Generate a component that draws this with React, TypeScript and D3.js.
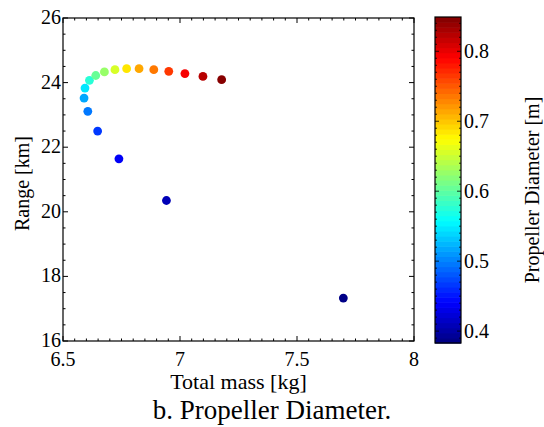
import React from "react";
import * as d3 from "d3";

const mass = [7.698, 6.942, 6.739, 6.648, 6.606, 6.590, 6.594, 6.613, 6.640, 6.677, 6.722, 6.772, 6.825, 6.888, 6.952, 7.021, 7.098, 7.178];
const rangeKm = [17.33, 20.35, 21.64, 22.50, 23.11, 23.52, 23.83, 24.07, 24.22, 24.33, 24.40, 24.43, 24.43, 24.40, 24.35, 24.28, 24.19, 24.09];
const diameter = [0.383, 0.41, 0.438, 0.465, 0.493, 0.52, 0.547, 0.575, 0.602, 0.63, 0.657, 0.684, 0.712, 0.739, 0.767, 0.794, 0.821, 0.849];
const xTicks = [6.5, 7, 7.5, 8];
const yTicks = [16, 18, 20, 22, 24, 26];
const cTicks = [0.4, 0.5, 0.6, 0.7, 0.8];
const cDomain = [0.383, 0.849];

const FONT = "Liberation Serif, DejaVu Serif, serif";

function jet(t: number): string {
  const c = (v: number) => Math.max(0, Math.min(1, v));
  const r = c(1.5 - Math.abs(4 * t - 3));
  const g = c(1.5 - Math.abs(4 * t - 2));
  const b = c(1.5 - Math.abs(4 * t - 1));
  return d3.rgb(r * 255, g * 255, b * 255).formatHex();
}
const NLEV = 64;
function jetQ(t: number): string {
  const i = Math.max(0, Math.min(NLEV - 1, Math.floor(t * NLEV)));
  return jet((i + 0.5) / NLEV);
}

export default function App() {
  const L = 63, R = 414, T = 18, B = 341;
  const x = d3.scaleLinear().domain([6.5, 8]).range([L, R]);
  const y = d3.scaleLinear().domain([16, 26]).range([B, T]);
  const cbL = 435, cbR = 461, cbT = 17, cbB = 343;
  const cy = d3.scaleLinear().domain(cDomain).range([cbB, cbT]);
  const cNorm = d3.scaleLinear().domain(cDomain).range([0, 1]).clamp(true);

  const xMinor = d3.range(0, 31).map((i) => 6.5 + i * 0.05);
  const yMinor = d3.range(0, 21).map((i) => 16 + i * 0.5);
  const cMinor = d3.range(39, 85).map((i) => i / 100).filter((v) => v >= cDomain[0] && v <= cDomain[1]);

  const bands = d3.range(NLEV);
  const bandH = (cbB - cbT) / NLEV;

  const isMajorX = (v: number) => xTicks.some((t) => Math.abs(t - v) < 1e-6);
  const isMajorY = (v: number) => yTicks.some((t) => Math.abs(t - v) < 1e-6);
  const isMajorC = (v: number) => cTicks.some((t) => Math.abs(t - v) < 1e-6);

  return (
    <svg width={544} height={427} style={{ position: "absolute", left: 0, top: 0, background: "#fff", fontFamily: FONT }}>
      <rect x={0} y={0} width={544} height={427} fill="#fff" />
      {mass.map((m, i) => (
        <circle key={i} cx={x(m)} cy={y(rangeKm[i])} r={4.4} fill={jetQ(cNorm(diameter[i]))} />
      ))}
      {xMinor.map((v, i) => {
        const len = isMajorX(v) ? 5 : 2.5;
        return (
          <g key={"xt" + i} stroke="#000" strokeWidth={1}>
            <line x1={x(v)} x2={x(v)} y1={B} y2={B - len} />
            <line x1={x(v)} x2={x(v)} y1={T} y2={T + len} />
          </g>
        );
      })}
      {yMinor.map((v, i) => {
        const len = isMajorY(v) ? 5 : 2.5;
        return (
          <g key={"yt" + i} stroke="#000" strokeWidth={1}>
            <line x1={L} x2={L + len} y1={y(v)} y2={y(v)} />
            <line x1={R} x2={R - len} y1={y(v)} y2={y(v)} />
          </g>
        );
      })}
      <rect x={L} y={T} width={R - L} height={B - T} fill="none" stroke="#000" strokeWidth={1.2} />
      {xTicks.map((v) => (
        <text key={"xl" + v} x={x(v)} y={366} textAnchor="middle" fontSize={20} style={{ fontFamily: FONT }}>{String(v)}</text>
      ))}
      {yTicks.map((v) => (
        <text key={"yl" + v} x={L - 2} y={y(v) + (v === 16 ? 6 : 6)} textAnchor="end" fontSize={20} style={{ fontFamily: FONT }}>{String(v)}</text>
      ))}
      <text x={(L + R) / 2} y={389} textAnchor="middle" fontSize={22} style={{ fontFamily: FONT }}>Total mass [kg]</text>
      <text transform={`translate(29,${(T + B) / 2 + 4}) rotate(-90)`} textAnchor="middle" fontSize={20} style={{ fontFamily: FONT }}>Range [km]</text>
      <text x={272} y={419} textAnchor="middle" fontSize={27} style={{ fontFamily: FONT }}>b. Propeller Diameter.</text>
      {bands.map((i) => (
        <rect key={"cb" + i} x={cbL} width={cbR - cbL} y={cbB - (i + 1) * bandH} height={bandH + 0.6} fill={jet((i + 0.5) / NLEV)} />
      ))}
      {cMinor.map((v, i) => {
        const len = isMajorC(v) ? 4 : 2;
        return (
          <g key={"ct" + i} stroke="#000" strokeWidth={0.8}>
            <line x1={cbL} x2={cbL + len} y1={cy(v)} y2={cy(v)} />
            <line x1={cbR} x2={cbR - len} y1={cy(v)} y2={cy(v)} />
          </g>
        );
      })}
      <rect x={cbL} y={cbT} width={cbR - cbL} height={cbB - cbT} fill="none" stroke="#000" strokeWidth={1.2} />
      {cTicks.map((v) => (
        <text key={"cl" + v} x={cbR + 3} y={cy(v) + 7} fontSize={20} style={{ fontFamily: FONT }}>{v.toFixed(1)}</text>
      ))}
      <text transform={`translate(539,${(cbT + cbB) / 2 + 10}) rotate(-90)`} textAnchor="middle" fontSize={20} style={{ fontFamily: FONT }}>Propeller Diameter [m]</text>
    </svg>
  );
}
